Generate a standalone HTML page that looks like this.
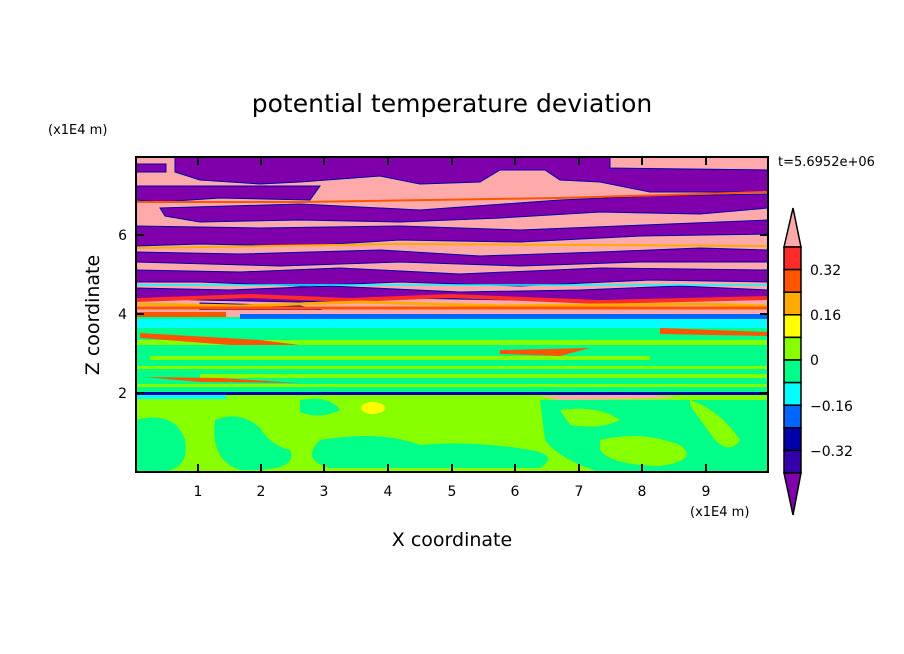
<!DOCTYPE html>
<html><head><meta charset="utf-8"><style>
html,body{margin:0;padding:0;background:#fff;}
svg{display:block;}
text{font-family:"DejaVu Sans","Liberation Sans",sans-serif;fill:#000;}
</style></head><body>
<svg width="904" height="654" viewBox="0 0 904 654" xmlns="http://www.w3.org/2000/svg">
<defs><clipPath id="c"><rect x="136" y="157" width="632" height="315"/></clipPath></defs>
<g clip-path="url(#c)">
<rect x="136" y="157" width="632" height="160" fill="#ffaaaa"/>
<rect x="136" y="317" width="632" height="80" fill="#00ff88"/>
<rect x="136" y="395" width="632" height="77" fill="#88ff00"/>
<g fill="#7f00aa" stroke="#0000aa" stroke-width="1">
<path d="M175 157 L610 157 L610 168 L768 170 L768 192 L650 192 L600 182 L560 180 L545 170 L500 170 L480 182 L420 184 L380 176 L300 182 L260 184 L200 180 L175 172Z"/>
<path d="M136 164 L166 164 L166 172 L136 172Z"/>
<path d="M136 186 L320 186 L310 200 L220 198 L160 202 L136 200Z"/>
<path d="M160 208 L300 204 L420 210 L560 200 L650 196 L768 194 L768 208 L700 214 L600 212 L500 218 L400 222 L300 220 L200 222 L165 216Z"/>
<path d="M136 226 L260 228 L400 226 L520 230 L620 226 L768 220 L768 234 L640 236 L520 242 L400 240 L300 246 L200 244 L136 246Z"/>
<path d="M136 252 L240 254 L380 250 L480 256 L600 252 L700 248 L768 250 L768 262 L640 262 L520 266 L400 262 L280 266 L136 262Z"/>
<path d="M136 270 L240 272 L340 268 L460 274 L600 268 L768 270 L768 282 L650 280 L520 286 L400 282 L300 286 L200 282 L136 282Z"/>
<path d="M136 288 L230 290 L330 286 L460 292 L580 290 L680 286 L768 290 L768 298 L640 300 L520 300 L400 298 L300 302 L200 300 L136 298Z"/>
<path d="M200 303 L300 306 L330 312 L260 312 L200 310Z"/>
</g>
<g fill="none" stroke-width="2">
<path d="M136 202 L300 202 L560 198 L768 192" stroke="#ff5500"/>
<path d="M136 248 L400 244 L768 246" stroke="#ffaa00"/>
<path d="M136 285 L400 285 L768 285" stroke="#00ffff" stroke-width="1.5"/>
<path d="M136 300 L250 296 L350 300 L450 296 L600 302 L768 298" stroke="#ff2a2a" stroke-width="4"/>
<path d="M136 304 L240 306 L360 302 L500 306 L700 304 L768 306" stroke="#ffaa00" stroke-width="3"/>
<path d="M136 308 L768 308" stroke="#ff5500" stroke-width="3"/>
</g>
<rect x="136" y="310" width="632" height="6" fill="#ffaaaa"/>
<rect x="136" y="312" width="90" height="5" fill="#ff5500"/>
<rect x="240" y="314" width="528" height="5" fill="#0066ff"/>
<rect x="136" y="319" width="632" height="9" fill="#00ffff"/>
<rect x="136" y="328" width="632" height="4" fill="#00ff88"/>
<g fill="#88ff00">
<rect x="136" y="340" width="632" height="5"/>
<rect x="150" y="356" width="500" height="4"/>
<rect x="136" y="366" width="632" height="3"/>
<rect x="200" y="374" width="568" height="4"/>
<rect x="136" y="384" width="632" height="3"/>
</g>
<g fill="#ff5500">
<path d="M140 333 L260 340 L300 345 L230 345 L140 338Z"/>
<path d="M500 350 L590 348 L560 356 L500 354Z"/>
<path d="M660 328 L768 332 L768 336 L660 334Z"/>
<path d="M145 377 L220 378 L300 383 L200 382Z"/>
<path d="M540 396 L640 394 L680 398 L560 400Z" fill="#ffaaaa"/>
</g>
<rect x="136" y="392" width="632" height="3" fill="#0000aa"/>
<rect x="136" y="395" width="90" height="4" fill="#00ffff"/>
<g fill="#00ff88">
<path d="M136 420 Q175 410 185 440 Q190 470 160 472 L136 472Z"/>
<path d="M215 420 Q240 410 260 428 Q270 445 290 450 Q300 472 240 470 Q210 460 215 420Z"/>
<path d="M320 440 Q380 430 420 445 Q470 440 530 450 Q560 455 540 468 L330 468 Q300 460 320 440Z"/>
<path d="M540 400 L768 400 L768 472 L600 472 Q560 460 545 440Z"/>
<path d="M300 400 Q330 395 340 410 Q320 420 300 412Z"/>
</g>
<g fill="#88ff00">
<path d="M600 440 Q640 430 680 445 Q700 460 660 466 Q610 465 600 450Z"/>
<path d="M690 400 Q720 410 740 440 Q730 455 715 440 Q700 420 690 405Z"/>
<path d="M560 410 Q600 405 620 420 Q600 430 570 425Z"/>
</g>
<ellipse cx="373" cy="408" rx="12" ry="6" fill="#ffff00"/>
</g>
<rect x="136" y="157" width="632" height="315" fill="none" stroke="#000" stroke-width="2"/>
<g stroke="#000" stroke-width="2">
<path d="M198 472v-8M261 472v-8M324 472v-8M388 472v-8M452 472v-8M515 472v-8M579 472v-8M642 472v-8M706 472v-8"/>
<path d="M198 157v8M261 157v8M324 157v8M388 157v8M452 157v8M515 157v8M579 157v8M642 157v8M706 157v8"/>
<path d="M136 393h8M136 314h8M136 235h8M768 393h-8M768 314h-8M768 235h-8"/>
</g>
<g font-size="14" text-anchor="middle">
<text x="198" y="496">1</text><text x="261" y="496">2</text><text x="324" y="496">3</text>
<text x="388" y="496">4</text><text x="452" y="496">5</text><text x="515" y="496">6</text>
<text x="579" y="496">7</text><text x="642" y="496">8</text><text x="706" y="496">9</text>
</g>
<g font-size="14" text-anchor="end">
<text x="127" y="398">2</text><text x="127" y="319">4</text><text x="127" y="240">6</text>
</g>
<text x="452" y="112" font-size="25" text-anchor="middle">potential temperature deviation</text>
<text x="48" y="134" font-size="13">(x1E4 m)</text>
<text x="690" y="516" font-size="13">(x1E4 m)</text>
<text x="452" y="546" font-size="19" text-anchor="middle">X coordinate</text>
<text x="0" y="0" font-size="19" text-anchor="middle" transform="translate(99 315) rotate(-90)">Z coordinate</text>
<text x="778" y="166" font-size="13">t=5.6952e+06</text>
<g stroke="#000" stroke-width="1.5">
<path d="M793 208 L801 247 L784 247Z" fill="#ffaaaa"/>
<rect x="784" y="247" width="17" height="22.6" fill="#ff2a2a"/>
<rect x="784" y="269.6" width="17" height="22.6" fill="#ff5500"/>
<rect x="784" y="292.2" width="17" height="22.6" fill="#ffaa00"/>
<rect x="784" y="314.8" width="17" height="22.6" fill="#ffff00"/>
<rect x="784" y="337.4" width="17" height="22.6" fill="#88ff00"/>
<rect x="784" y="360" width="17" height="22.6" fill="#00ff88"/>
<rect x="784" y="382.6" width="17" height="22.6" fill="#00ffff"/>
<rect x="784" y="405.2" width="17" height="22.6" fill="#0066ff"/>
<rect x="784" y="427.8" width="17" height="22.6" fill="#0000aa"/>
<rect x="784" y="450.4" width="17" height="22.6" fill="#3300aa"/>
<path d="M784 473 L801 473 L793 515Z" fill="#7f00aa"/>
</g>
<g font-size="14">
<text x="810" y="275">0.32</text><text x="810" y="320">0.16</text><text x="810" y="365">0</text>
<text x="810" y="411">−0.16</text><text x="810" y="456">−0.32</text>
</g>
</svg>
</body></html>
